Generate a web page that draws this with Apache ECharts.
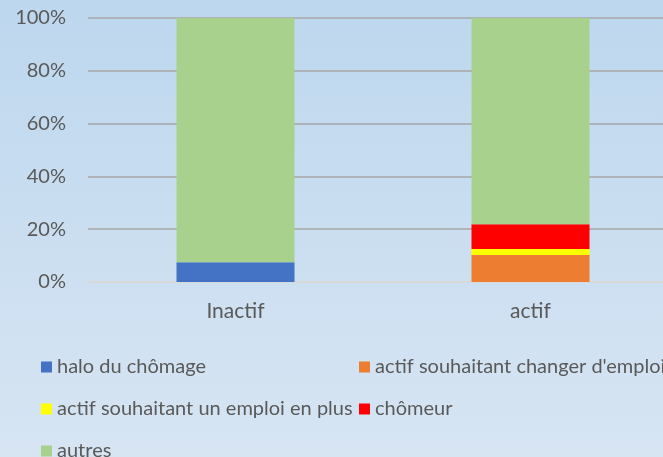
<!DOCTYPE html>
<html>
<head>
<meta charset="utf-8">
<script src="https://cdn.jsdelivr.net/npm/echarts@6/dist/echarts.min.js"></script>
<style>
  html, body { margin: 0; padding: 0; }
  #chart-container { width: 663px; height: 457px; }
</style>
</head>
<body>
<div id="chart-container"></div>
<script>
const categories = ['Inactif', 'actif'];
const halo = [7.5, 0];
const changerEmploi = [0, 10.2];
const emploiEnPlus = [0, 2.3];
const chomeur = [0, 9.4];
const autres = [92.5, 78.1];

const textColor = '#595959';
const font = 'Lato, "Noto Sans", sans-serif';

function bar(name, data, color) {
    return {
        name: name,
        type: 'bar',
        stack: 'total',
        barWidth: '40%',
        data: data,
        itemStyle: { color: color }
    };
}

function legendAt(name, left, top) {
    return {
        data: [name],
        left: left,
        top: top,
        itemWidth: 11,
        itemHeight: 11,
        icon: 'rect',
        textStyle: { color: textColor, fontSize: 20, fontFamily: font }
    };
}

const option = {
    backgroundColor: {
        type: 'linear', x: 0, y: 0, x2: 0, y2: 1,
        colorStops: [
            { offset: 0, color: '#bdd7ee' },
            { offset: 1, color: '#d7e5f3' }
        ]
    },
    animation: false,
    grid: { left: 88, top: 18, width: 590, height: 264, outerBoundsMode: 'none' },
    legend: [
        legendAt('halo du chômage', 36, 352),
        legendAt("actif souhaitant changer d'emploi", 354, 352),
        legendAt('actif souhaitant un emploi en plus', 36, 394),
        legendAt('chômeur', 354, 394),
        legendAt('autres', 36, 436)
    ],
    xAxis: {
        type: 'category',
        data: categories,
        axisTick: { show: false },
        axisLine: { lineStyle: { color: '#d9d9d9', width: 2 } },
        axisLabel: { color: textColor, fontSize: 21, fontFamily: font, margin: 19 }
    },
    yAxis: {
        type: 'value',
        min: 0,
        max: 100,
        interval: 20,
        axisLabel: { formatter: '{value}%', color: textColor, fontSize: 20, fontFamily: font, margin: 22 },
        splitLine: { lineStyle: { color: '#a6a6a6', width: 1.5 } }
    },
    series: [
        bar('halo du chômage', halo, '#4472c4'),
        bar("actif souhaitant changer d'emploi", changerEmploi, '#ed7d31'),
        bar('actif souhaitant un emploi en plus', emploiEnPlus, '#ffff00'),
        bar('chômeur', chomeur, '#ff0000'),
        bar('autres', autres, '#a9d18e')
    ]
};

const chart = echarts.init(document.getElementById('chart-container'));
chart.setOption(option);
</script>
</body>
</html>
